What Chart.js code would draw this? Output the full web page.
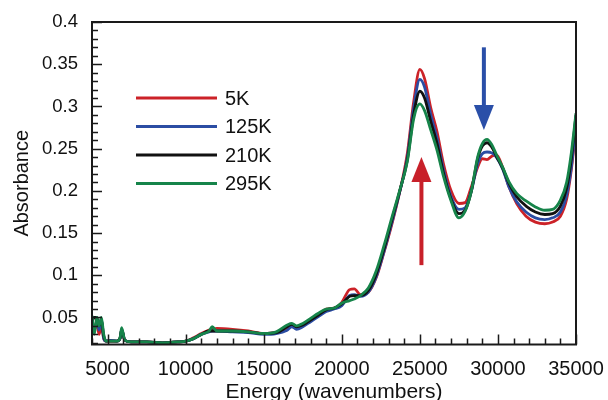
<!DOCTYPE html>
<html>
<head>
<meta charset="utf-8">
<script src="https://cdn.jsdelivr.net/npm/chart.js@4.4.0/dist/chart.umd.min.js"></script>
<style>
  html, body { margin: 0; padding: 0; background: #fff; }
  #wrap { width: 608px; height: 400px; }
</style>
</head>
<body>
<div id="wrap"><canvas id="absChart"></canvas></div>
<script>
// energy grid (wavenumbers) shared by all four spectra
const energy = [4000, 4150, 4300, 4450, 4600, 4750, 4900, 5200, 5600, 5800,
  5900, 6100, 6500, 7500, 8500, 9500, 10000, 10500, 11000, 11500,
  11700, 12000, 13000, 14000, 15000, 15800, 16500, 16800, 17100, 17500,
  18000, 18500, 19000, 19500, 20000, 20500, 20800, 21200, 21700, 22200,
  22700, 23200, 23700, 24200, 24600, 25000, 25300, 25700, 26100, 26500,
  27000, 27500, 27900, 28300, 28700, 29000, 29300, 29600, 29900, 30300,
  30700, 31200, 31800, 32400, 33000, 33500, 34000, 34400, 34700, 35000];

const abs5K = [0.040, 0.035, 0.045, 0.030, 0.040, 0.025, 0.022, 0.022, 0.022, 0.025,
  0.035, 0.023, 0.021, 0.021, 0.020, 0.021, 0.022, 0.026, 0.031, 0.035,
  0.036, 0.037, 0.036, 0.034, 0.031, 0.032, 0.038, 0.040, 0.037, 0.040,
  0.047, 0.053, 0.060, 0.061, 0.068, 0.083, 0.084, 0.077, 0.080, 0.097,
  0.127, 0.160, 0.198, 0.245, 0.305, 0.344, 0.333, 0.298, 0.270, 0.233,
  0.200, 0.185, 0.186, 0.205, 0.228, 0.238, 0.237, 0.241, 0.243, 0.228,
  0.205, 0.185, 0.170, 0.163, 0.161, 0.163, 0.170, 0.190, 0.225, 0.275];

const abs125K = [0.050, 0.050, 0.050, 0.035, 0.048, 0.025, 0.022, 0.023, 0.022, 0.025,
  0.036, 0.023, 0.021, 0.021, 0.020, 0.021, 0.022, 0.025, 0.030, 0.033,
  0.034, 0.034, 0.033, 0.032, 0.030, 0.031, 0.035, 0.039, 0.036, 0.039,
  0.045, 0.051, 0.057, 0.060, 0.064, 0.076, 0.077, 0.075, 0.080, 0.098,
  0.128, 0.162, 0.198, 0.240, 0.298, 0.332, 0.323, 0.290, 0.262, 0.226,
  0.193, 0.178, 0.180, 0.200, 0.232, 0.244, 0.246, 0.245, 0.240, 0.226,
  0.205, 0.187, 0.175, 0.168, 0.166, 0.168, 0.175, 0.195, 0.228, 0.280];

const abs210K = [0.045, 0.050, 0.050, 0.040, 0.047, 0.028, 0.022, 0.022, 0.022, 0.026,
  0.036, 0.023, 0.021, 0.021, 0.020, 0.021, 0.022, 0.025, 0.030, 0.034,
  0.034, 0.034, 0.034, 0.033, 0.031, 0.032, 0.039, 0.042, 0.039, 0.041,
  0.047, 0.053, 0.059, 0.061, 0.066, 0.075, 0.076, 0.076, 0.082, 0.101,
  0.131, 0.165, 0.199, 0.237, 0.290, 0.318, 0.310, 0.282, 0.256, 0.222,
  0.190, 0.173, 0.177, 0.200, 0.238, 0.253, 0.257, 0.252, 0.241, 0.227,
  0.209, 0.193, 0.182, 0.175, 0.172, 0.173, 0.182, 0.203, 0.238, 0.290];

const abs295K = [0.052, 0.030, 0.050, 0.040, 0.050, 0.030, 0.022, 0.022, 0.022, 0.026,
  0.038, 0.023, 0.021, 0.021, 0.020, 0.021, 0.022, 0.025, 0.030, 0.034,
  0.039, 0.034, 0.034, 0.033, 0.031, 0.033, 0.041, 0.043, 0.040, 0.043,
  0.049, 0.055, 0.060, 0.061, 0.067, 0.070, 0.072, 0.076, 0.085, 0.105,
  0.135, 0.168, 0.200, 0.235, 0.285, 0.303, 0.295, 0.272, 0.248, 0.218,
  0.188, 0.168, 0.176, 0.200, 0.240, 0.256, 0.261, 0.255, 0.243, 0.228,
  0.211, 0.197, 0.188, 0.181, 0.177, 0.178, 0.189, 0.210, 0.245, 0.292];

const xTicks = [5000, 10000, 15000, 20000, 25000, 30000, 35000];
const xTickLabels = ['5000', '10000', '15000', '20000', '25000', '30000', '35000'];
const yTicks = [0.05, 0.1, 0.15, 0.2, 0.25, 0.3, 0.35, 0.4];
const yTickLabels = ['0.05', '0.1', '0.15', '0.2', '0.25', '0.3', '0.35', '0.4'];

const FONT = "'Liberation Sans', Arial, Helvetica, sans-serif";

function toPoints(vals) {
  return vals.map((v, i) => ({ x: energy[i], y: v }));
}

function series(label, vals, color, order) {
  return {
    label: label,
    data: toPoints(vals),
    borderColor: color,
    borderWidth: 2.8,
    pointRadius: 0,
    cubicInterpolationMode: 'monotone',
    fill: false,
    order: order,
  };
}

// inward ticks, box frame, legend and the two arrows
const decorations = {
  id: 'decorations',
  afterDatasetsDraw(chart) {
    const { ctx, chartArea: a, scales: { x, y } } = chart;
    ctx.save();
    ctx.strokeStyle = '#1a1a1a';
    ctx.lineWidth = 1.5;
    ctx.beginPath();
    for (let v = 4000; v <= 35000; v += 1000) {
      const px = Math.round(x.getPixelForValue(v)) + 0.5;
      const len = v % 5000 === 0 ? 10 : 6;
      ctx.moveTo(px, a.bottom);
      ctx.lineTo(px, a.bottom - len);
    }
    for (let k = 2; k <= 40; k++) {
      const py = Math.round(y.getPixelForValue(k / 100)) + 0.5;
      const len = k % 5 === 0 ? 10 : 6;
      ctx.moveTo(a.left, py);
      ctx.lineTo(a.left + len, py);
    }
    ctx.stroke();

    ctx.lineWidth = 2;
    ctx.strokeRect(a.left, a.top, a.right - a.left, a.bottom - a.top);

    // legend
    ctx.font = '20px ' + FONT;
    ctx.textBaseline = 'middle';
    ctx.textAlign = 'left';
    chart.data.datasets.forEach((ds, i) => {
      const ly = a.top + 76 + i * 28.5;
      ctx.strokeStyle = ds.borderColor;
      ctx.lineWidth = 3;
      ctx.beginPath();
      ctx.moveTo(a.left + 44, ly);
      ctx.lineTo(a.left + 125, ly);
      ctx.stroke();
      ctx.fillStyle = '#111';
      ctx.fillText(ds.label, a.left + 133, ly + 1);
    });

    // arrows
    const arrows = [
      { at: 25100, from: 0.112, to: 0.24, color: '#c8202a' },
      { at: 29100, from: 0.37, to: 0.272, color: '#2a4fa8' },
    ];
    arrows.forEach(ar => {
      const px = x.getPixelForValue(ar.at);
      const y0 = y.getPixelForValue(ar.from);
      const y1 = y.getPixelForValue(ar.to);
      const dir = y1 < y0 ? 1 : -1;
      ctx.strokeStyle = ar.color;
      ctx.fillStyle = ar.color;
      ctx.lineWidth = 4;
      ctx.beginPath();
      ctx.moveTo(px, y0);
      ctx.lineTo(px, y1 + dir * 22);
      ctx.stroke();
      ctx.beginPath();
      ctx.moveTo(px, y1);
      ctx.lineTo(px - 10, y1 + dir * 25);
      ctx.lineTo(px + 10, y1 + dir * 25);
      ctx.closePath();
      ctx.fill();
    });
    ctx.restore();
  }
};

document.addEventListener('DOMContentLoaded', function () {
  const ctx = document.getElementById('absChart').getContext('2d');

  new Chart(ctx, {
    type: 'line',
    data: {
      datasets: [
        series('5K', abs5K, '#cc2228', 4),
        series('125K', abs125K, '#2b4da3', 3),
        series('210K', abs210K, '#111111', 2),
        series('295K', abs295K, '#16844a', 1),
      ],
    },
    options: {
      responsive: true,
      maintainAspectRatio: false,
      animation: false,
      layout: { padding: { left: 0, right: 32, top: 22, bottom: 0 } },
      plugins: { legend: { display: false }, tooltip: { enabled: false } },
      scales: {
        x: {
          type: 'linear',
          min: 4000,
          max: 35000,
          afterBuildTicks: s => { s.ticks = xTicks.map(v => ({ value: v })); },
          afterFit: s => { s.height = 55.5; s.paddingLeft = 0; s.paddingRight = 0; },
          grid: { display: false, drawTicks: false },
          border: { display: false },
          ticks: {
            padding: 13,
            maxRotation: 0,
            autoSkip: false,
            color: '#111',
            font: { family: FONT, size: 20 },
            callback: (v, i) => xTickLabels[i],
          },
          title: {
            display: true,
            text: 'Energy (wavenumbers)',
            color: '#111',
            font: { family: FONT, size: 21, lineHeight: 1 },
            padding: { top: 0, bottom: -3 },
          },
        },
        y: {
          min: 0.018,
          max: 0.4,
          afterBuildTicks: s => { s.ticks = yTicks.map(v => ({ value: v })); },
          afterFit: s => { s.width = 92; s.paddingTop = 0; s.paddingBottom = 0; },
          grid: { display: false, drawTicks: false },
          border: { display: false },
          ticks: {
            padding: 14,
            autoSkip: false,
            color: '#111',
            font: { family: FONT, size: 18.5 },
            callback: (v, i) => yTickLabels[i],
          },
          title: {
            display: true,
            text: 'Absorbance',
            color: '#111',
            font: { family: FONT, size: 20, lineHeight: 1 },
            padding: { top: 12.5, bottom: 0 },
          },
        },
      },
    },
    plugins: [decorations],
  });
});
</script>
</body>
</html>
